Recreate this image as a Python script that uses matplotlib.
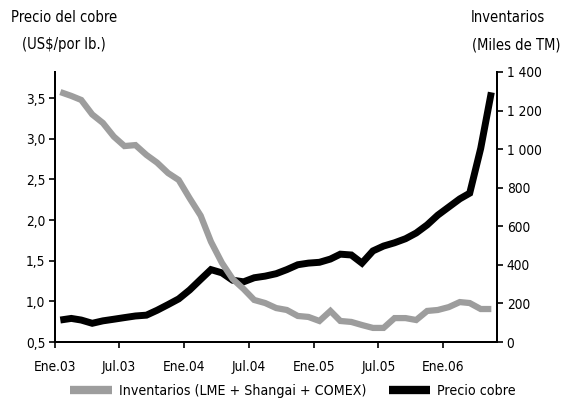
import matplotlib
matplotlib.use("Agg")
import matplotlib.pyplot as plt
import matplotlib.dates as mdates
from matplotlib.lines import Line2D
from matplotlib.ticker import FuncFormatter, FixedLocator
import pandas as pd

plt.rcParams['font.family'] = ['DejaVu Sans']
plt.rcParams['font.stretch'] = 'condensed'

months = pd.date_range('2003-01-01', periods=41, freq='MS') + pd.Timedelta(days=15)

precio = [0.77, 0.79, 0.77, 0.73, 0.76, 0.78, 0.80, 0.82, 0.83, 0.89,
          0.96, 1.03, 1.14, 1.27, 1.39, 1.35, 1.26, 1.24, 1.29, 1.31,
          1.34, 1.39, 1.45, 1.47, 1.48, 1.52, 1.58, 1.57, 1.47, 1.62,
          1.68, 1.72, 1.77, 1.84, 1.94, 2.06, 2.16, 2.26, 2.33, 2.88, 3.57]

inventarios = [1296, 1276, 1255, 1180, 1136, 1065, 1016, 1021, 970, 930,
               876, 840, 745, 655, 520, 410, 327, 275, 218, 202,
               176, 166, 135, 130, 109, 161, 109, 104, 88, 73,
               73, 124, 124, 114, 161, 166, 181, 207, 202, 171, 171]

tick_dates = pd.to_datetime(['2003-01-01', '2003-07-01', '2004-01-01', '2004-07-01',
                             '2005-01-01', '2005-07-01', '2006-01-01'])
tick_labels = ['Ene.03', 'Jul.03', 'Ene.04', 'Jul.04', 'Ene.05', 'Jul.05', 'Ene.06']

left_ticks = [0.5, 1.0, 1.5, 2.0, 2.5, 3.0, 3.5]
right_ticks = [0, 200, 400, 600, 800, 1000, 1200, 1400]

gray = '#9d9d9d'
fs = 10.5
tfs = 9.8

fig = plt.figure(figsize=(5.68, 4.01), dpi=100)
ax = fig.add_axes([55/568, 59/401, (497-55)/568, 270/401])
ax2 = ax.twinx()

ax.plot(months, precio, color='black', lw=5.0, solid_capstyle='butt', solid_joinstyle='miter', zorder=2)
ax2.plot(months, inventarios, color=gray, lw=4.5, solid_capstyle='butt', solid_joinstyle='miter', zorder=3)

ax.set_xlim(pd.Timestamp('2003-01-01'), pd.Timestamp('2006-06-01'))
ax.set_ylim(0.5, 3.82)
ax2.set_ylim(0, 1400)

ax.xaxis.set_major_locator(FixedLocator(mdates.date2num(tick_dates)))
ax.set_xticklabels(tick_labels)
ax.set_yticks(left_ticks)
ax.yaxis.set_major_formatter(FuncFormatter(lambda v, p: f"{v:.1f}".replace('.', ',')))
ax2.set_yticks(right_ticks)
ax2.yaxis.set_major_formatter(FuncFormatter(lambda v, p: f"{int(v):,}".replace(',', ' ')))

for a in (ax, ax2):
    a.spines['top'].set_visible(False)
    for s in a.spines.values():
        s.set_linewidth(1.4)
        s.set_color('black')
ax.tick_params(axis='both', direction='out', length=4, width=1.2, labelsize=tfs, pad=3)
ax.tick_params(axis='x', pad=9)
ax2.tick_params(axis='y', direction='out', length=4, width=1.2, labelsize=tfs, pad=3)

fig.text(64/568, 1 - 18/401, 'Precio del cobre', ha='center', va='center', fontsize=fs)
fig.text(64/568, 1 - 45/401, '(US$/por lb.)', ha='center', va='center', fontsize=fs)
fig.text(508/568, 1 - 18/401, 'Inventarios', ha='center', va='center', fontsize=fs)
fig.text(516/568, 1 - 45/401, '(Miles de TM)', ha='center', va='center', fontsize=fs)

handles = [Line2D([0], [0], color=gray, lw=6, solid_capstyle='butt'),
           Line2D([0], [0], color='black', lw=6, solid_capstyle='butt')]
fig.legend(handles, ['Inventarios (LME + Shangai + COMEX)', 'Precio cobre'],
           loc='center', bbox_to_anchor=(293/568, 10/401), ncol=2, frameon=False,
           fontsize=10.2, handlelength=2.9, handletextpad=0.5, columnspacing=1.6,
           borderpad=0, borderaxespad=0)

fig.savefig('out.png', dpi=100)
